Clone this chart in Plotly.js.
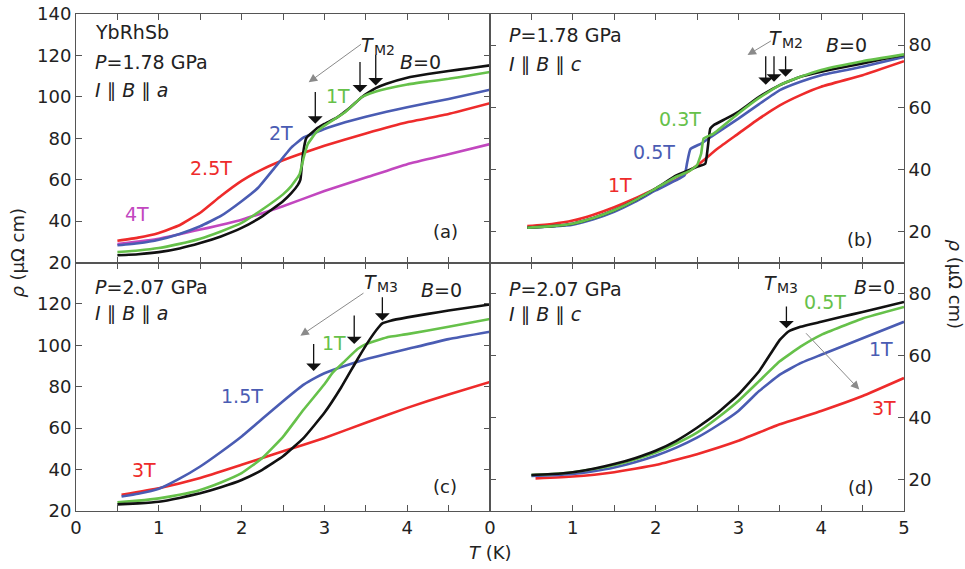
<!DOCTYPE html>
<html>
<head>
<meta charset="utf-8">
<script src="https://cdn.plot.ly/plotly-3.0.1.min.js"></script>
<style>
html,body{margin:0;padding:0;background:#fff;}
#chart{width:965px;height:569px;}
</style>
</head>
<body>
<div id="chart"></div>
<script>
// ---------- Panel (a): P=1.78 GPa, I||B||a ----------
const a_T_B0   = [0.5,0.75,1,1.25,1.5,1.75,2,2.25,2.5,2.6,2.68,2.71,2.74,2.78,2.9,3.0,3.15,3.3,3.45,3.55,3.62,3.75,4.0,4.25,4.5,4.75,5.0];
const a_rho_B0 = [23.5,24.0,25.0,26.8,29.4,32.6,36.7,42.3,49.6,53.5,57.5,60,72,80,84.5,86.9,90,94.5,99.8,102.5,104.2,106.3,109.2,111,112.5,113.8,115.2];
const a_T_1T   = [0.5,0.75,1,1.25,1.5,1.75,2,2.25,2.5,2.6,2.7,2.75,2.8,2.9,3.0,3.25,3.45,3.55,3.75,4.0,4.25,4.5,4.75,5.0];
const a_rho_1T = [25,25.8,27,29,31.5,35,39.1,45.6,52.9,56.9,62.6,70.7,77.2,82.8,86.1,92.6,99.8,101.6,103.9,106,107.4,108.7,110.3,112];
const a_T_2T   = [0.5,0.75,1,1.25,1.5,1.75,2,2.2,2.4,2.6,2.75,2.9,3.0,3.25,3.5,3.75,4.0,4.5,5.0];
const a_rho_2T = [28.3,29.3,31,33.8,37.5,42.5,49.6,56.1,65.8,75.5,80.4,82.8,84.5,87.7,90.4,92.8,95,99,103.4];
const a_T_25T   = [0.5,0.75,1,1.25,1.5,1.75,2,2.25,2.5,2.75,3,3.5,4,4.5,5];
const a_rho_25T = [30.5,32,34.3,38,44,52.1,59.4,65,69.4,73,76.4,82.3,87.7,91.7,96.9];
const a_T_4T   = [0.5,1,1.5,2,2.5,3,3.5,4,4.5,5];
const a_rho_4T = [28.9,31.5,35.9,40.7,47.2,54.5,61,67.5,72.3,77.2];

// ---------- Panel (b): P=1.78 GPa, I||B||c ----------
const b_T_B0   = [0.45,0.75,1,1.25,1.5,1.75,2,2.25,2.4,2.5,2.6,2.63,2.66,2.7,2.85,3,3.25,3.5,3.75,4,4.25,4.5,4.75,5];
const b_rho_B0 = [21.2,21.7,22.5,24.3,26.8,30,33.8,38,39.7,40.8,41.8,47,53.1,54.2,56.3,58.5,63.3,67.1,69.8,71.4,72.8,74.1,75.5,76.8];
const b_T_03T   = [0.45,0.75,1,1.25,1.5,1.75,2,2.25,2.4,2.5,2.55,2.58,2.7,3,3.25,3.5,3.75,4,4.5,5];
const b_rho_03T = [21.2,21.7,22.5,24.3,26.8,30,33.8,37.6,39.3,41.3,45,49.9,51.5,58,63,67.1,69.8,72,74.8,77];
const b_T_05T   = [0.45,0.75,1,1.25,1.5,1.75,2,2.25,2.35,2.38,2.42,2.55,2.7,3,3.25,3.5,3.75,4,4.5,5];
const b_rho_05T = [21.2,21.6,22.2,23.9,26.3,29.5,33.2,36.5,38.1,42,46.5,48.3,51,56.3,61,65.5,68.2,70.3,73,76.2];
const b_T_1T   = [0.45,0.75,1,1.25,1.5,1.75,2,2.25,2.5,2.75,3,3.25,3.5,3.75,4,4.5,5];
const b_rho_1T = [21.7,22.4,23.5,25.4,27.8,30.6,33.8,36.7,41.2,46.7,51.5,56.3,60.6,63.9,66.6,70.3,74.8];

// ---------- Panel (c): P=2.07 GPa, I||B||a ----------
const c_T_B0   = [0.5,0.75,1,1.25,1.5,1.75,2,2.25,2.5,2.75,3,3.2,3.4,3.55,3.65,3.7,3.8,4,4.25,4.5,4.75,5];
const c_rho_B0 = [23.2,23.7,24.5,26.3,28.6,31.5,35,39.9,46.4,55.3,67.4,79.5,93.3,103,108.5,110.6,111.9,113.5,115.2,116.8,118.3,119.7];
const c_T_1T   = [0.5,0.75,1,1.25,1.5,1.75,2,2.25,2.5,2.75,3,3.1,3.25,3.4,3.5,3.75,4,4.5,5];
const c_rho_1T = [24.2,25,26.1,27.8,30.2,33.8,38.3,45.6,55.8,69,81.2,86.8,92.5,98.2,100.6,103.8,105.4,109,112.7];
const c_T_15T   = [0.55,0.75,1,1.25,1.5,1.75,2,2.25,2.5,2.75,2.9,3,3.25,3.5,3.75,4,4.5,5];
const c_rho_15T = [27,28.3,30.7,35.6,41.5,48.5,56,64.5,73,81,84.5,86.5,90.1,93.3,95.8,98.2,103,106.6];
const c_T_3T   = [0.55,1,1.5,2,2.5,3,3.5,4,4.5,5];
const c_rho_3T = [27.8,31,35.9,42.3,48.8,55.3,62.6,69.8,76.3,82.3];

// ---------- Panel (d): P=2.07 GPa, I||B||c ----------
const d_T_B0   = [0.5,0.75,1,1.25,1.5,1.75,2,2.25,2.5,2.75,3,3.25,3.5,3.6,3.75,4,4.25,4.5,4.75,5];
const d_rho_B0 = [21.6,21.9,22.5,23.6,25.1,27,29.4,32.6,36.8,41.6,47.5,55,65.1,67.7,69.3,70.9,72.5,74.1,75.7,77.3];
const d_T_05T   = [0.5,0.75,1,1.25,1.5,1.75,2,2.25,2.5,2.75,3,3.25,3.5,3.75,4,4.5,5];
const d_rho_05T = [21.6,21.9,22.5,23.5,24.8,26.6,28.8,31.7,35.2,40,45.4,51.8,58.2,62.9,66.7,72,75.7];
const d_T_1T   = [0.5,0.75,1,1.25,1.5,1.75,2,2.25,2.5,2.75,3,3.25,3.5,3.75,4,4.5,5];
const d_rho_1T = [21.3,21.5,21.9,22.8,24,25.7,27.8,30.4,33.6,37.6,42.2,48.6,53.9,57.6,60.3,65.6,70.9];
const d_T_3T   = [0.55,1,1.5,2,2.5,3,3.5,4,4.5,5];
const d_rho_3T = [20.5,21.1,22.5,24.8,28.3,32.6,37.9,42.2,47,52.8];

// ---------- tick labels ----------
const xTickValsAll   = [0,1,2,3,4,5];
const xTickValsLeft  = [0,1,2,3,4];
const yTopLeftVals   = [20,40,60,80,100,120,140];
const yBotLeftVals   = [20,40,60,80,100,120];
const yRightVals     = [20,40,60,80];

// ---------- styles ----------
const COL = {k:'#111111', g:'#66c14a', b:'#4a5cb3', r:'#ee2b2b', m:'#c247bf', gray:'#8a8a8a'};
const FONT = 'DejaVu Sans, Liberation Sans, Arial, sans-serif';

function tr(x, y, color, xa, ya){
  return {x:x, y:y, type:'scatter', mode:'lines', xaxis:xa, yaxis:ya,
          line:{color:color, width:2.6, shape:'spline', smoothing:0.35}, hoverinfo:'skip', showlegend:false};
}

const data = [
  tr(a_T_4T, a_rho_4T, COL.m, 'x', 'y'),
  tr(a_T_25T, a_rho_25T, COL.r, 'x', 'y'),
  tr(a_T_2T, a_rho_2T, COL.b, 'x', 'y'),
  tr(a_T_B0, a_rho_B0, COL.k, 'x', 'y'),
  tr(a_T_1T, a_rho_1T, COL.g, 'x', 'y'),

  tr(b_T_1T, b_rho_1T, COL.r, 'x2', 'y2'),
  tr(b_T_05T, b_rho_05T, COL.b, 'x2', 'y2'),
  tr(b_T_B0, b_rho_B0, COL.k, 'x2', 'y2'),
  tr(b_T_03T, b_rho_03T, COL.g, 'x2', 'y2'),

  tr(c_T_3T, c_rho_3T, COL.r, 'x3', 'y3'),
  tr(c_T_15T, c_rho_15T, COL.b, 'x3', 'y3'),
  tr(c_T_1T, c_rho_1T, COL.g, 'x3', 'y3'),
  tr(c_T_B0, c_rho_B0, COL.k, 'x3', 'y3'),

  tr(d_T_3T, d_rho_3T, COL.r, 'x4', 'y4'),
  tr(d_T_1T, d_rho_1T, COL.b, 'x4', 'y4'),
  tr(d_T_05T, d_rho_05T, COL.g, 'x4', 'y4'),
  tr(d_T_B0, d_rho_B0, COL.k, 'x4', 'y4')
];

const axBase = {showline:true, linecolor:'#555', linewidth:1, ticks:'inside', ticklen:6, tickcolor:'#555',
  tickwidth:1, mirror:'ticks', zeroline:false, showgrid:false, fixedrange:true, tickmode:'array',
  tickfont:{family:FONT, size:18, color:'#222'}};
function ax(extra){ return Object.assign({}, axBase, extra); }
const xMinor = {tick0:0, dtick:0.5, ticks:'inside', ticklen:6, tickcolor:'#555', tickwidth:1, showgrid:false};

function txt(x, y, text, xr, yr, color, anchor, size){
  return {x:x, y:y, xref:xr, yref:yr, text:text, showarrow:false,
          xanchor:anchor||'center', yanchor:'middle',
          font:{family:FONT, size:size||19, color:color||'#222'}};
}
// "T" with a subscript, built from two plain labels (italic T + smaller subscript)
function tLabel(x, y, sub, xr, yr){
  return [
    {x:x, y:y, xref:xr, yref:yr, text:'<i>T</i>', showarrow:false, xanchor:'right', yanchor:'middle',
     borderpad:0, borderwidth:0, font:{family:FONT, size:19, color:'#222'}},
    {x:x, y:y, xref:xr, yref:yr, text:sub, showarrow:false, xanchor:'left', yanchor:'middle',
     yshift:-5, borderpad:0, borderwidth:0, font:{family:FONT, size:14, color:'#222'}}
  ];
}
function blackArrow(x, yTip, yTail, xr, yr){
  return {x:x, y:yTip, ax:x, ay:yTail, xref:xr, yref:yr, axref:xr, ayref:yr, text:'',
          showarrow:true, arrowhead:1, arrowsize:1.9, arrowwidth:1.3, arrowcolor:'#111', standoff:0, startstandoff:0};
}
function grayArrow(xTip, yTip, xTail, yTail, xr, yr){
  return {x:xTip, y:yTip, ax:xTail, ay:yTail, xref:xr, yref:yr, axref:xr, ayref:yr, text:'',
          showarrow:true, arrowhead:2, arrowsize:1.7, arrowwidth:1, arrowcolor:COL.gray, standoff:0, startstandoff:0};
}

const annotations = [
  // panel (a)
  txt(0.2, 131.3, 'YbRhSb', 'x', 'y', '#222', 'left'),
  txt(0.2, 116.7, '<i>P</i>=1.78 GPa', 'x', 'y', '#222', 'left'),
  txt(0.2, 103.1, '<i>I</i> ∥ <i>B</i> ∥ <i>a</i>', 'x', 'y', '#222', 'left'),
  ...tLabel(3.6, 125.2, 'M2', 'x', 'y'),
  txt(4.16, 116.7, '<i>B</i>=0', 'x', 'y'),
  txt(3.16, 100.6, '1T', 'x', 'y', COL.g),
  txt(2.47, 82.7, '2T', 'x', 'y', COL.b),
  txt(1.63, 65.7, '2.5T', 'x', 'y', COL.r),
  txt(0.74, 43.3, '4T', 'x', 'y', COL.m),
  txt(4.46, 35, '(a)', 'x', 'y', '#222', 'center', 18),
  grayArrow(2.81, 107, 3.46, 125.9, 'x', 'y'),
  blackArrow(2.89, 87, 103.1, 'x', 'y'),
  blackArrow(3.43, 102.1, 117.6, 'x', 'y'),
  blackArrow(3.62, 105.5, 121, 'x', 'y'),

  // panel (b)
  txt(0.2, 83.3, '<i>P</i>=1.78 GPa', 'x2', 'y2', '#222', 'left'),
  txt(0.2, 73.6, '<i>I</i> ∥ <i>B</i> ∥ <i>c</i>', 'x2', 'y2', '#222', 'left'),
  ...tLabel(3.53, 82.2, 'M2', 'x2', 'y2'),
  txt(4.3, 80.1, '<i>B</i>=0', 'x2', 'y2'),
  txt(2.3, 56.2, '0.3T', 'x2', 'y2', COL.g),
  txt(1.98, 45.6, '0.5T', 'x2', 'y2', COL.b),
  txt(1.57, 34.9, '1T', 'x2', 'y2', COL.r),
  txt(4.46, 17.5, '(b)', 'x2', 'y2', '#222', 'center', 18),
  grayArrow(3.11, 76.8, 3.41, 81.6, 'x2', 'y2'),
  blackArrow(3.33, 67.2, 76.9, 'x2', 'y2'),
  blackArrow(3.43, 68.2, 76.9, 'x2', 'y2'),
  blackArrow(3.57, 69.8, 76.9, 'x2', 'y2'),

  // panel (c)
  txt(0.2, 128, '<i>P</i>=2.07 GPa', 'x3', 'y3', '#222', 'left'),
  txt(0.2, 115.4, '<i>I</i> ∥ <i>B</i> ∥ <i>a</i>', 'x3', 'y3', '#222', 'left'),
  ...tLabel(3.64, 130.5, 'M3', 'x3', 'y3'),
  txt(4.41, 126.5, '<i>B</i>=0', 'x3', 'y3'),
  txt(3.11, 101, '1T', 'x3', 'y3', COL.g),
  txt(2.0, 75.4, '1.5T', 'x3', 'y3', COL.b),
  txt(0.82, 39.8, '3T', 'x3', 'y3', COL.r),
  txt(4.46, 31.6, '(c)', 'x3', 'y3', '#222', 'center', 18),
  grayArrow(2.71, 104.6, 3.49, 125.7, 'x3', 'y3'),
  blackArrow(2.87, 87.6, 101.4, 'x3', 'y3'),
  blackArrow(3.36, 100.6, 115.1, 'x3', 'y3'),
  blackArrow(3.70, 111.9, 124, 'x3', 'y3'),

  // panel (d)
  txt(0.2, 81.6, '<i>P</i>=2.07 GPa', 'x4', 'y4', '#222', 'left'),
  txt(0.2, 73.2, '<i>I</i> ∥ <i>B</i> ∥ <i>c</i>', 'x4', 'y4', '#222', 'left'),
  ...tLabel(3.47, 83.3, 'M3', 'x4', 'y4'),
  txt(4.05, 77.4, '0.5T', 'x4', 'y4', COL.g),
  txt(4.64, 82.2, '<i>B</i>=0', 'x4', 'y4'),
  txt(4.72, 62, '1T', 'x4', 'y4', COL.b),
  txt(4.76, 43.1, '3T', 'x4', 'y4', COL.r),
  txt(4.47, 17.7, '(d)', 'x4', 'y4', '#222', 'center', 18),
  blackArrow(3.58, 68.8, 76.3, 'x4', 'y4'),
  grayArrow(4.46, 49.1, 3.8, 67.7, 'x4', 'y4'),

  // axis titles
  {x:0.5, y:-0.083, xref:'paper', yref:'paper', text:'<i>T</i> (K)', showarrow:false,
   xanchor:'center', yanchor:'middle', font:{family:FONT, size:18, color:'#222'}},
  {x:-0.07, y:0.52, xref:'paper', yref:'paper', text:'<i>ρ</i> (μΩ cm)', showarrow:false, textangle:-90,
   xanchor:'center', yanchor:'middle', font:{family:FONT, size:18, color:'#222'}},
  {x:1.062, y:0.455, xref:'paper', yref:'paper', text:'<i>ρ</i> (μΩ cm)', showarrow:false, textangle:90,
   xanchor:'center', yanchor:'middle', font:{family:FONT, size:18, color:'#222'}}
];

const layout = {
  width:965, height:569,
  margin:{l:76, r:61, t:14, b:58},
  paper_bgcolor:'#fff', plot_bgcolor:'#fff',
  showlegend:false,
  xaxis:  ax({domain:[0,0.5], anchor:'y',  range:[0,5], tickvals:xTickValsAll, showticklabels:false, minor:xMinor}),
  yaxis:  ax({domain:[0.5,1], anchor:'x',  range:[20,140], tickvals:yTopLeftVals}),
  xaxis2: ax({domain:[0.5,1], anchor:'y2', range:[0,5], tickvals:xTickValsAll, showticklabels:false, minor:xMinor}),
  yaxis2: ax({domain:[0.5,1], anchor:'x2', range:[10,90], tickvals:yRightVals, side:'right'}),
  xaxis3: ax({domain:[0,0.5], anchor:'y3', range:[0,5], tickvals:xTickValsLeft, minor:xMinor}),
  yaxis3: ax({domain:[0,0.5], anchor:'x3', range:[20,140], tickvals:yBotLeftVals}),
  xaxis4: ax({domain:[0.5,1], anchor:'y4', range:[0,5], tickvals:xTickValsAll, minor:xMinor}),
  yaxis4: ax({domain:[0,0.5], anchor:'x4', range:[10,90], tickvals:yRightVals, side:'right'}),
  annotations: annotations
};

Plotly.newPlot('chart', data, layout, {staticPlot:true, displayModeBar:false}).then(function(gd){
  // drop empty placeholder text nodes (empty axis titles / arrow-only annotations)
  gd.querySelectorAll('svg text').forEach(function(t){
    if(!t.textContent || !t.textContent.replace(/[\s\u200b]/g,'')) t.parentNode.removeChild(t);
  });
});
</script>
</body>
</html>
